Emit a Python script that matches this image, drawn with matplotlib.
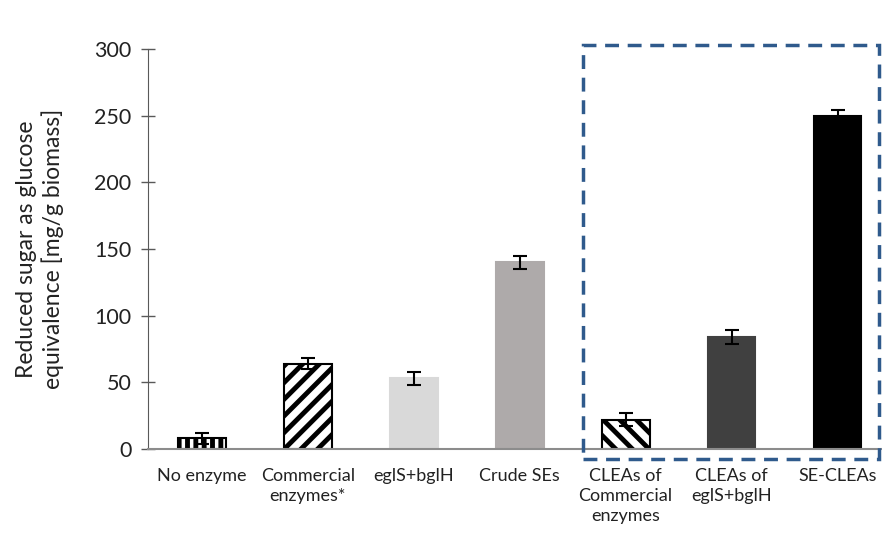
import numpy as np
import matplotlib
matplotlib.use("Agg")
from matplotlib import pyplot as plt
from matplotlib.patches import Rectangle

categories = ["No enzyme", "Commercial\nenzymes*", "eglS+bglH", "Crude SEs",
              "CLEAs of\nCommercial\nenzymes", "CLEAs of\neglS+bglH", "SE-CLEAs"]
sugar = [8, 64, 53, 140, 22, 84, 250]
sugarErr = [4, 4, 5, 5, 5, 5, 4]
barColors = ["white", "white", "#d9d9d9", "#aeaaaa", "white", "#404040", "black"]
barHatches = ["||", "//", None, None, "\\\\", None, None]
barEdges = ["black", "black", "#d9d9d9", "#aeaaaa", "black", "#404040", "black"]

plt.rcParams["font.family"] = ["Lato", "DejaVu Sans"]
plt.rcParams["hatch.linewidth"] = 3.5

fig = plt.figure(figsize=(8.82, 5.37), dpi=100)
ax = fig.add_axes([148/882, 1-449/537, 1-148/882, 400/537])
x = np.arange(len(categories))
for i in range(len(categories)):
    ax.bar(x[i], sugar[i], width=0.45, color=barColors[i], edgecolor=barEdges[i],
           hatch=barHatches[i], linewidth=1.5, zorder=2)
ax.errorbar(x, sugar, yerr=sugarErr, fmt="none", ecolor="black", elinewidth=1.5,
            capsize=5, capthick=1.5, zorder=3)

ax.set_xlim(-0.51, 6.42)
ax.set_ylim(0, 300)
ax.set_yticks(range(0, 301, 50))
ax.tick_params(axis="y", labelsize=15.5, direction="inout", length=10, width=1, color="#595959", pad=7)
ax.tick_params(axis="x", length=0, labelsize=13, pad=14)
ax.set_xticks(x)
ax.set_xticklabels(categories, color="#222222", linespacing=1.3)
for lbl in ax.get_yticklabels():
    lbl.set_color("#222222")
for side in ["top", "right"]:
    ax.spines[side].set_visible(False)
ax.spines["left"].set_color("#595959")
ax.spines["bottom"].set_color("#8c8c8c")
ax.spines["bottom"].set_linewidth(1.5)
ax.set_ylabel("Reduced sugar as glucose\nequivalence [mg/g biomass]", fontsize=16.5,
              color="#222222", labelpad=22, linespacing=1.2)

# dashed box around the CLEA preparations
box = Rectangle((583/882, 1-459/537), 296/882, 414/537, transform=fig.transFigure,
                fill=False, edgecolor="#2f5a8c", linewidth=2.5, linestyle=(0, (4, 2.5)),
                clip_on=False)
fig.patches.append(box)

fig.savefig("out.png", dpi=100)
